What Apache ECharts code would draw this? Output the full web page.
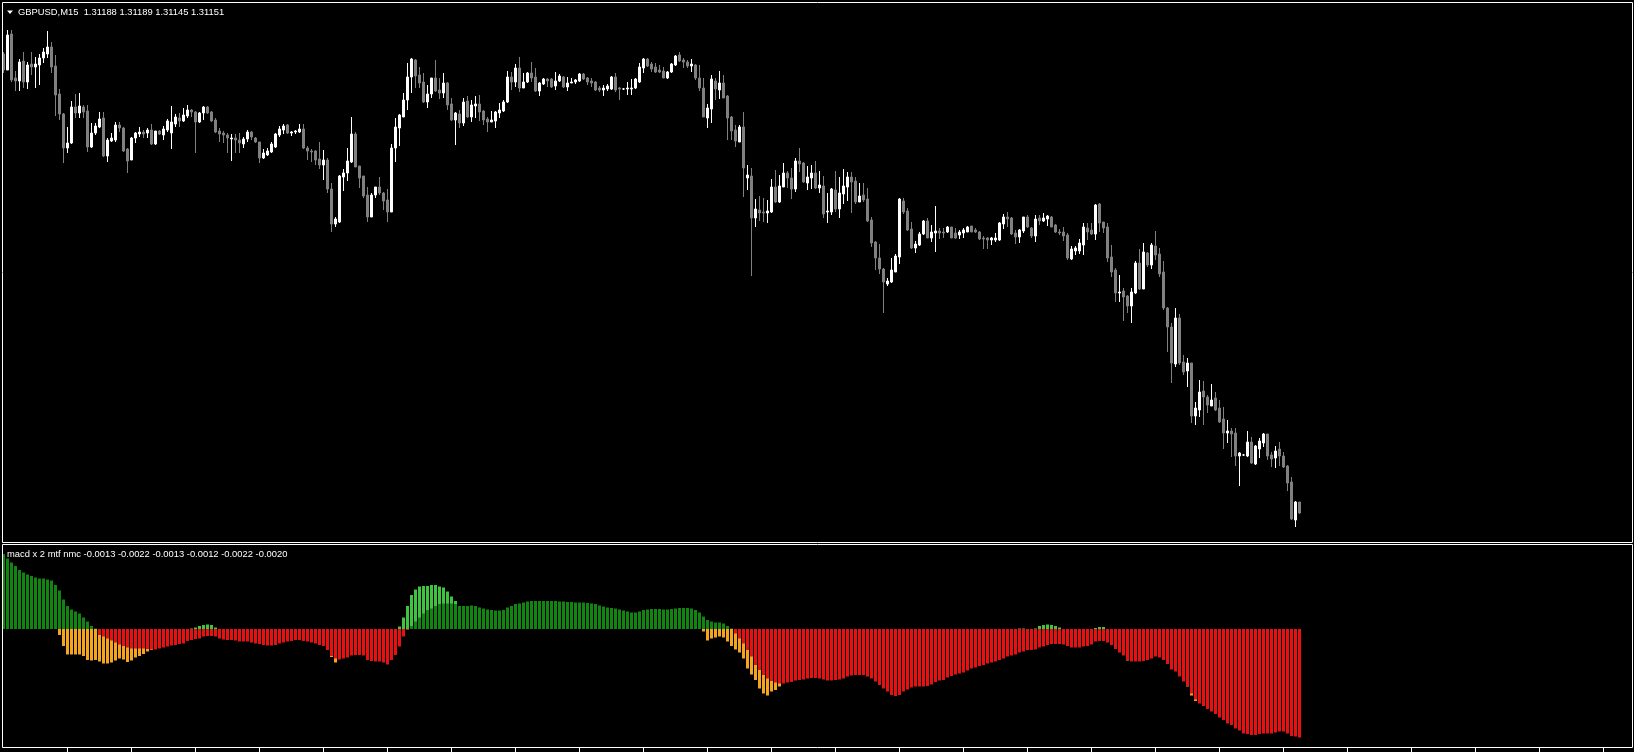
<!DOCTYPE html>
<html><head><meta charset="utf-8">
<script src="https://cdn.jsdelivr.net/npm/echarts@6/dist/echarts.min.js"></script>
<style>html,body{margin:0;padding:0;background:#000;overflow:hidden}#c{width:1634px;height:752px}</style>
</head><body><div id="c"></div>
<script>
// ---- text ----
const symbolLabel = 'GBPUSD,M15';
const lastQuote = ['1.31188', '1.31189', '1.31145', '1.31151'];
const indicatorName = 'macd x 2 mtf nmc';
const indicatorValues = ['-0.0013', '-0.0022', '-0.0013', '-0.0012', '-0.0022', '-0.0020'];

// ---- candles: [open, high, low, close] ----
const ohlc = [
[1.33510,1.33520,1.33415,1.33430],[1.33430,1.33630,1.33430,1.33605],[1.33610,1.33630,1.33370,1.33380],[1.33390,1.33425,1.33325,1.33375],
[1.33375,1.33485,1.33325,1.33470],[1.33475,1.33520,1.33340,1.33370],[1.33370,1.33470,1.33335,1.33455],[1.33460,1.33520,1.33405,1.33445],
[1.33445,1.33495,1.33340,1.33460],[1.33455,1.33510,1.33355,1.33490],[1.33490,1.33540,1.33465,1.33520],[1.33510,1.33625,1.33490,1.33545],
[1.33545,1.33570,1.33415,1.33445],[1.33450,1.33505,1.33200,1.33305],[1.33310,1.33335,1.33180,1.33210],[1.33210,1.33215,1.32965,1.33040],
[1.33040,1.33145,1.33015,1.33065],[1.33065,1.33275,1.33060,1.33245],[1.33245,1.33310,1.33190,1.33215],[1.33215,1.33315,1.33190,1.33250],
[1.33245,1.33255,1.33190,1.33220],[1.33225,1.33255,1.33020,1.33045],[1.33045,1.33165,1.33040,1.33115],[1.33115,1.33165,1.33105,1.33150],
[1.33145,1.33220,1.33140,1.33185],[1.33190,1.33220,1.32995,1.33000],[1.33000,1.33090,1.32970,1.33080],[1.33075,1.33115,1.33070,1.33090],
[1.33080,1.33170,1.33070,1.33155],[1.33155,1.33170,1.33120,1.33140],[1.33140,1.33145,1.33020,1.33025],[1.33035,1.33040,1.32915,1.32975],
[1.32980,1.33095,1.32980,1.33090],[1.33090,1.33120,1.33065,1.33115],[1.33110,1.33145,1.33095,1.33120],[1.33120,1.33130,1.33090,1.33110],
[1.33115,1.33140,1.33090,1.33130],[1.33130,1.33160,1.33055,1.33060],[1.33060,1.33125,1.33055,1.33125],[1.33125,1.33130,1.33105,1.33110],
[1.33105,1.33150,1.33080,1.33135],[1.33130,1.33185,1.33120,1.33175],[1.33115,1.33250,1.33035,1.33170],[1.33160,1.33210,1.33145,1.33195],
[1.33190,1.33215,1.33145,1.33175],[1.33175,1.33240,1.33170,1.33205],[1.33200,1.33255,1.33190,1.33230],[1.33230,1.33235,1.33195,1.33220],
[1.33220,1.33225,1.33015,1.33170],[1.33170,1.33220,1.33165,1.33215],[1.33215,1.33250,1.33180,1.33245],[1.33245,1.33250,1.33210,1.33215],
[1.33220,1.33225,1.33170,1.33175],[1.33180,1.33190,1.33115,1.33120],[1.33125,1.33140,1.33070,1.33110],[1.33115,1.33125,1.33065,1.33105],
[1.33105,1.33115,1.33015,1.33090],[1.33085,1.33110,1.32975,1.33090],[1.33090,1.33110,1.33015,1.33080],[1.33080,1.33115,1.33015,1.33065],
[1.33060,1.33095,1.33040,1.33085],[1.33085,1.33130,1.33070,1.33120],[1.33120,1.33125,1.33080,1.33095],[1.33090,1.33095,1.33065,1.33070],
[1.33070,1.33070,1.32965,1.32990],[1.32990,1.33035,1.32985,1.33015],[1.33005,1.33040,1.33000,1.33025],[1.33020,1.33070,1.33015,1.33060],
[1.33045,1.33115,1.33040,1.33110],[1.33105,1.33150,1.33095,1.33135],[1.33130,1.33160,1.33110,1.33150],[1.33155,1.33160,1.33110,1.33115],
[1.33115,1.33125,1.33100,1.33120],[1.33120,1.33130,1.33110,1.33125],[1.33120,1.33160,1.33115,1.33135],[1.33135,1.33160,1.33035,1.33040],
[1.33040,1.33050,1.32980,1.33025],[1.33025,1.33035,1.32970,1.33020],[1.33025,1.33030,1.32955,1.32980],[1.32985,1.33070,1.32935,1.32955],
[1.32955,1.33030,1.32880,1.32980],[1.32980,1.32990,1.32815,1.32835],[1.32835,1.32865,1.32620,1.32660],[1.32660,1.32695,1.32645,1.32685],
[1.32670,1.32905,1.32665,1.32900],[1.32895,1.32935,1.32825,1.32915],[1.32915,1.33040,1.32875,1.32975],[1.32970,1.33195,1.32965,1.33110],
[1.33110,1.33120,1.32945,1.32945],[1.32950,1.32950,1.32840,1.32890],[1.32900,1.32900,1.32790,1.32800],[1.32805,1.32845,1.32670,1.32695],
[1.32695,1.32815,1.32695,1.32805],[1.32805,1.32845,1.32790,1.32845],[1.32845,1.32895,1.32805,1.32815],[1.32815,1.32820,1.32730,1.32775],
[1.32780,1.32835,1.32670,1.32720],[1.32720,1.33060,1.32720,1.33040],[1.33040,1.33190,1.32970,1.33145],[1.33140,1.33210,1.33050,1.33205],
[1.33195,1.33315,1.33195,1.33280],[1.33280,1.33465,1.33230,1.33395],[1.33395,1.33490,1.33315,1.33485],[1.33480,1.33485,1.33340,1.33400],
[1.33405,1.33445,1.33340,1.33365],[1.33370,1.33415,1.33265,1.33270],[1.33270,1.33355,1.33240,1.33310],[1.33310,1.33390,1.33290,1.33390],
[1.33390,1.33480,1.33320,1.33325],[1.33330,1.33390,1.33285,1.33315],[1.33315,1.33415,1.33290,1.33365],[1.33365,1.33370,1.33230,1.33255],
[1.33260,1.33290,1.33175,1.33180],[1.33180,1.33220,1.33055,1.33215],[1.33210,1.33230,1.33140,1.33165],[1.33165,1.33290,1.33150,1.33270],
[1.33275,1.33300,1.33190,1.33195],[1.33195,1.33280,1.33170,1.33255],[1.33250,1.33300,1.33190,1.33260],[1.33260,1.33305,1.33175,1.33220],
[1.33225,1.33230,1.33155,1.33180],[1.33185,1.33195,1.33120,1.33170],[1.33170,1.33225,1.33170,1.33180],[1.33175,1.33225,1.33140,1.33220],
[1.33215,1.33265,1.33190,1.33230],[1.33225,1.33280,1.33220,1.33270],[1.33270,1.33425,1.33265,1.33395],[1.33395,1.33420,1.33330,1.33370],
[1.33370,1.33460,1.33345,1.33440],[1.33440,1.33495,1.33320,1.33340],[1.33340,1.33415,1.33340,1.33370],[1.33370,1.33420,1.33365,1.33415],
[1.33415,1.33470,1.33370,1.33390],[1.33395,1.33440,1.33320,1.33325],[1.33325,1.33370,1.33300,1.33365],[1.33360,1.33390,1.33355,1.33385],
[1.33385,1.33390,1.33345,1.33375],[1.33385,1.33390,1.33340,1.33345],[1.33350,1.33420,1.33330,1.33375],[1.33375,1.33410,1.33370,1.33400],
[1.33395,1.33400,1.33340,1.33345],[1.33345,1.33395,1.33325,1.33365],[1.33365,1.33390,1.33365,1.33370],[1.33370,1.33385,1.33360,1.33380],
[1.33375,1.33415,1.33370,1.33410],[1.33410,1.33415,1.33380,1.33385],[1.33390,1.33395,1.33355,1.33370],[1.33375,1.33390,1.33345,1.33365],
[1.33370,1.33375,1.33325,1.33330],[1.33340,1.33350,1.33320,1.33330],[1.33330,1.33355,1.33300,1.33340],[1.33335,1.33360,1.33325,1.33350],
[1.33335,1.33400,1.33330,1.33395],[1.33395,1.33415,1.33320,1.33330],[1.33340,1.33345,1.33280,1.33335],[1.33335,1.33340,1.33330,1.33335],
[1.33335,1.33370,1.33305,1.33340],[1.33335,1.33385,1.33305,1.33340],[1.33340,1.33390,1.33335,1.33385],[1.33370,1.33465,1.33365,1.33445],
[1.33440,1.33490,1.33415,1.33485],[1.33485,1.33490,1.33445,1.33450],[1.33460,1.33470,1.33420,1.33435],[1.33445,1.33465,1.33415,1.33420],
[1.33430,1.33455,1.33415,1.33420],[1.33425,1.33445,1.33390,1.33390],[1.33390,1.33425,1.33385,1.33420],[1.33420,1.33465,1.33415,1.33460],
[1.33455,1.33505,1.33450,1.33500],[1.33505,1.33520,1.33470,1.33475],[1.33480,1.33490,1.33440,1.33470],[1.33470,1.33480,1.33440,1.33450],
[1.33450,1.33485,1.33420,1.33460],[1.33455,1.33460,1.33380,1.33390],[1.33390,1.33455,1.33325,1.33340],[1.33340,1.33390,1.33195,1.33195],
[1.33190,1.33260,1.33140,1.33240],[1.33235,1.33405,1.33165,1.33385],[1.33375,1.33390,1.33280,1.33335],[1.33330,1.33425,1.33285,1.33365],
[1.33365,1.33405,1.33290,1.33290],[1.33300,1.33305,1.33080,1.33190],[1.33195,1.33200,1.33080,1.33125],[1.33130,1.33155,1.33045,1.33075],
[1.33070,1.33155,1.33070,1.33145],[1.33145,1.33220,1.32795,1.32940],[1.32890,1.32955,1.32830,1.32905],[1.32900,1.32940,1.32400,1.32690],
[1.32690,1.32785,1.32645,1.32735],[1.32730,1.32800,1.32675,1.32715],[1.32720,1.32790,1.32670,1.32715],[1.32715,1.32780,1.32665,1.32725],
[1.32720,1.32885,1.32715,1.32845],[1.32845,1.32930,1.32765,1.32770],[1.32770,1.32905,1.32765,1.32850],[1.32845,1.32965,1.32845,1.32915],
[1.32915,1.32925,1.32840,1.32890],[1.32890,1.32940,1.32785,1.32835],[1.32835,1.32990,1.32820,1.32975],[1.32975,1.33040,1.32920,1.32960],
[1.32965,1.32970,1.32865,1.32870],[1.32865,1.32950,1.32830,1.32895],[1.32890,1.32955,1.32835,1.32915],[1.32915,1.32975,1.32835,1.32840],
[1.32840,1.32925,1.32815,1.32855],[1.32850,1.32900,1.32690,1.32710],[1.32720,1.32815,1.32665,1.32725],[1.32720,1.32840,1.32705,1.32835],
[1.32830,1.32925,1.32720,1.32735],[1.32735,1.32895,1.32690,1.32815],[1.32810,1.32935,1.32760,1.32850],[1.32845,1.32920,1.32775,1.32895],
[1.32895,1.32920,1.32715,1.32870],[1.32875,1.32895,1.32760,1.32770],[1.32770,1.32865,1.32770,1.32800],[1.32805,1.32865,1.32770,1.32780],
[1.32785,1.32840,1.32670,1.32675],[1.32680,1.32695,1.32545,1.32565],[1.32570,1.32575,1.32430,1.32490],[1.32490,1.32560,1.32410,1.32435],
[1.32435,1.32440,1.32215,1.32370],[1.32360,1.32390,1.32350,1.32375],[1.32370,1.32490,1.32365,1.32430],[1.32420,1.32510,1.32420,1.32500],
[1.32495,1.32790,1.32460,1.32785],[1.32775,1.32790,1.32710,1.32720],[1.32725,1.32740,1.32625,1.32630],[1.32635,1.32670,1.32535,1.32540],
[1.32540,1.32575,1.32515,1.32560],[1.32555,1.32620,1.32550,1.32610],[1.32610,1.32680,1.32605,1.32675],[1.32675,1.32690,1.32590,1.32590],
[1.32590,1.32655,1.32570,1.32620],[1.32615,1.32750,1.32520,1.32625],[1.32625,1.32640,1.32585,1.32615],[1.32620,1.32640,1.32590,1.32615],
[1.32620,1.32650,1.32615,1.32645],[1.32645,1.32645,1.32590,1.32590],[1.32615,1.32640,1.32585,1.32590],[1.32605,1.32630,1.32585,1.32620],
[1.32615,1.32640,1.32590,1.32630],[1.32620,1.32650,1.32620,1.32645],[1.32650,1.32650,1.32620,1.32620],[1.32630,1.32640,1.32615,1.32620],
[1.32620,1.32625,1.32580,1.32585],[1.32590,1.32600,1.32535,1.32585],[1.32590,1.32595,1.32535,1.32580],[1.32580,1.32595,1.32555,1.32590],
[1.32580,1.32615,1.32570,1.32590],[1.32580,1.32670,1.32575,1.32665],[1.32660,1.32710,1.32635,1.32695],[1.32695,1.32720,1.32645,1.32685],
[1.32690,1.32695,1.32605,1.32610],[1.32615,1.32630,1.32560,1.32595],[1.32595,1.32635,1.32565,1.32630],[1.32625,1.32695,1.32615,1.32695],
[1.32695,1.32705,1.32640,1.32645],[1.32640,1.32645,1.32590,1.32600],[1.32600,1.32705,1.32570,1.32685],[1.32690,1.32705,1.32655,1.32675],
[1.32675,1.32715,1.32670,1.32690],[1.32685,1.32705,1.32650,1.32700],[1.32695,1.32700,1.32645,1.32645],[1.32655,1.32660,1.32615,1.32620],
[1.32620,1.32635,1.32605,1.32615],[1.32620,1.32645,1.32575,1.32600],[1.32605,1.32615,1.32480,1.32490],[1.32485,1.32550,1.32480,1.32535],
[1.32525,1.32550,1.32505,1.32540],[1.32525,1.32585,1.32510,1.32565],[1.32555,1.32665,1.32505,1.32645],[1.32640,1.32665,1.32580,1.32620],
[1.32630,1.32665,1.32605,1.32610],[1.32610,1.32760,1.32580,1.32755],[1.32760,1.32765,1.32620,1.32665],[1.32670,1.32670,1.32615,1.32640],
[1.32645,1.32665,1.32470,1.32490],[1.32495,1.32555,1.32395,1.32420],[1.32430,1.32440,1.32270,1.32315],[1.32315,1.32405,1.32270,1.32320],
[1.32325,1.32340,1.32175,1.32295],[1.32300,1.32305,1.32215,1.32250],[1.32250,1.32340,1.32165,1.32320],[1.32315,1.32475,1.32310,1.32465],
[1.32465,1.32535,1.32330,1.32335],[1.32335,1.32565,1.32335,1.32520],[1.32515,1.32520,1.32445,1.32455],[1.32455,1.32565,1.32435,1.32555],
[1.32550,1.32625,1.32480,1.32505],[1.32510,1.32540,1.32395,1.32410],[1.32420,1.32475,1.32230,1.32240],[1.32240,1.32245,1.32020,1.32145],
[1.32145,1.32165,1.31865,1.31965],[1.31960,1.32240,1.31945,1.32190],[1.32190,1.32210,1.31955,1.31965],[1.31970,1.32005,1.31905,1.31920],
[1.31925,1.31990,1.31845,1.31965],[1.31965,1.31965,1.31665,1.31700],[1.31700,1.31770,1.31655,1.31740],[1.31730,1.31880,1.31695,1.31820],
[1.31825,1.31875,1.31655,1.31795],[1.31795,1.31805,1.31715,1.31755],[1.31750,1.31860,1.31750,1.31780],[1.31790,1.31820,1.31725,1.31730],
[1.31740,1.31780,1.31665,1.31670],[1.31685,1.31745,1.31535,1.31615],[1.31615,1.31680,1.31565,1.31625],[1.31625,1.31640,1.31495,1.31610],
[1.31615,1.31640,1.31450,1.31500],[1.31500,1.31520,1.31350,1.31515],[1.31505,1.31510,1.31500,1.31505],[1.31500,1.31625,1.31495,1.31570],
[1.31570,1.31595,1.31460,1.31465],[1.31460,1.31555,1.31455,1.31550],[1.31535,1.31590,1.31490,1.31575],[1.31565,1.31615,1.31545,1.31610],
[1.31610,1.31610,1.31480,1.31500],[1.31505,1.31520,1.31445,1.31485],[1.31490,1.31550,1.31440,1.31525],[1.31535,1.31570,1.31450,1.31500],
[1.31500,1.31520,1.31440,1.31445],[1.31450,1.31455,1.31325,1.31365],[1.31370,1.31395,1.31180,1.31185],[1.31180,1.31275,1.31145,1.31270],
[1.31270,1.31270,1.31210,1.31215]
];

// ---- MACD histograms, in points (1 point = 0.00001) ----
const macdFastPts = [
120,110,100,92,85,78,70,62,55,48,40,28,12,2,
-12,-34,-51,-51,-51,-51,-54,-62,-63,-62,-65,-69,-69,-67,-63,-59,-61,-66,-63,-57,-54,-50,-45,-42,
-38,-34,-30,-26,-22,-18,-14,-10,-5,
1,3,6,8,9,8,3,
-3,-6,-9,-11,-13,-15,-16,-17,-19,-21,-24,-27,-28,-27,-24,-20,-17,-15,-14,-13,-14,-17,-20,-23,-26,-30,-33,-41,
-56,-67,-60,-55,-50,-44,-42,-43,-46,-55,-58,-58,-57,-56,-55,-40,-22,
5,23,46,68,79,85,86,86,88,88,85,83,75,65,56,
44,40,37,
35,33,32,31,31,32,33,35,38,42,45,47,48,49,50,50,50,49,48,47,46,46,46,46,47,47,47,47,46,45,
43,40,37,34,32,30,29,28,27,26,26,27,29,31,33,34,34,33,32,32,33,34,34,33,30,24,14,3,
-5,-23,-19,-17,-15,-17,-25,-34,-41,-47,-59,-79,-91,-102,-119,-129,-133,-125,-122,-115,
-108,-103,-98,-92,-88,-85,-82,-80,-80,-82,-86,-88,-87,-84,-80,-76,-72,-70,-70,-71,
-75,-82,-90,-98,-106,-113,-118,-120,-117,-105,-98,-95,-94,-92,-90,-88,-85,-80,-75,-71,
-67,-63,-58,-54,-50,-46,-42,-38,-34,-30,-26,-22,-18,-14,-10,-6,-4,-2,-1,
1,1,-1,0,1,6,8,9,8,6,3,
-2,-6,-9,-10,-9,-7,-4,-1,2,4,4,
-2,-10,-22,-35,-46,-63,-62,-58,-55,-53,-50,-46,-44,-49,-58,-68,-80,-84,-93,-104,-115,-133,-144,
-146,-150,-155,-158,-162,-168,-172,-178,-180,-186,-189,-194,-193,-193,-190,-186,-184,-184,-184,-182,-181,-183,-189,-196,-199,-200
];
const macdSlowPts = [
150,141,133,126,118,113,109,106,103,101,101,99,97,88,77,59,46,39,35,31,23,15,6,1,
-12,-15,-19,-23,-27,-31,-34,-37,-39,-39,-39,-39,-40,-41,-41,-39,-37,-35,-33,-32,-30,-29,-24,
-22,-20,-19,-15,-14,-14,-15,-19,-21,-22,-22,-23,-25,-25,-25,-27,-29,-30,-32,-33,-33,-32,-29,-27,-25,-24,-22,-22,-24,-25,-27,-29,-32,-34,
-42,-54,-59,-61,-59,-57,-53,-52,-52,-53,-62,-64,-65,-65,-67,-71,-62,-52,-35,-15,-2,
6,15,23,31,38,41,46,50,51,51,51,50,46,46,46,
47,46,43,41,39,38,37,37,38,43,46,50,51,53,55,56,56,56,56,56,56,56,55,55,54,54,53,53,53,52,
51,50,47,45,43,42,41,39,37,35,33,33,35,38,39,40,40,40,39,39,40,41,42,42,42,41,38,33,25,18,15,13,13,11,6,1,
-9,-19,-29,-42,-55,-72,-82,-92,-99,-104,-107,-109,-109,-107,-106,-103,-102,-101,-99,-98,
-98,-99,-101,-103,-103,-102,-101,-99,-95,-93,-92,-92,-92,-95,-99,-105,-112,-119,-125,-132,
-134,-132,-125,-121,-117,-115,-115,-115,-114,-111,-106,-103,-102,-97,-94,-91,-89,-87,-83,-79,
-77,-74,-72,-69,-67,-65,-62,-59,-55,-53,-51,-47,-45,-42,
-42,-41,-37,-35,-32,-30,-30,-30,-31,-34,-37,-37,-37,-35,-34,-31,-25,-24,-24,-27,
-32,-40,-47,-53,-62,-65,-65,-65,-64,-62,-59,-55,-57,-62,-70,-81,-85,-95,-105,-114,
-129,-141,-149,-154,-160,-165,-170,-177,-182,-189,-192,-199,-203,-209,-210,-212,-212,-210,-209,-209,
-209,-207,-205,-205,-209,-214,-215,-217
];

// chart shift: total bar slots in the window (empty space on the right)
const slotCount = 407;
const slots = Array.from({length: slotCount}, (_, i) => String(i));

const candleData = ohlc.map(r => [r[0], r[3], r[2], r[1]]);

const COL = {
  bull: '#ffffff', bear: '#808080',
  slowUp: '#128412', slowDn: '#e81111',
  fastUp: '#3ec43e', fastDn: '#f5a51d',
  frame: '#ffffff', text: '#ffffff'
};
const FONT = '9.4px "Liberation Sans", Arial, sans-serif';

const chart = echarts.init(document.getElementById('c'), null, {renderer: 'canvas', width: 1634, height: 752});
chart.setOption({
  backgroundColor: '#000000',
  animation: false,
  grid: [
    {left: 1.5, top: 2, width: 1628, height: 540, containLabel: false},
    {left: 1.5, top: 544, width: 1628, height: 204, containLabel: false}
  ],
  xAxis: [
    {type: 'category', gridIndex: 0, data: slots, boundaryGap: true, show: false},
    {type: 'category', gridIndex: 1, data: slots, boundaryGap: true, position: 'bottom',
     axisLine: {show: false, onZero: false}, axisLabel: {show: false}, splitLine: {show: false},
     axisTick: {show: true, alignWithLabel: true, inside: false, length: 4,
       interval: (i) => i > 0 && i % 16 === 0, lineStyle: {color: COL.frame, width: 1}}}
  ],
  yAxis: [
    {type: 'value', gridIndex: 0, min: 1.3107, max: 1.3377, show: false, splitLine: {show: false}},
    {type: 'value', gridIndex: 1, min: -238, max: 170, show: false, splitLine: {show: false}}
  ],
  series: [
    {type: 'candlestick', xAxisIndex: 0, yAxisIndex: 0, data: candleData, barWidth: 2, silent: true,
     itemStyle: {color: COL.bull, color0: COL.bear, borderColor: COL.bull, borderColor0: COL.bear, borderColorDoji: COL.bull, borderWidth: 1}},
    {type: 'bar', xAxisIndex: 1, yAxisIndex: 1, data: macdFastPts, barWidth: 3, barGap: '-100%', silent: true,
     itemStyle: {color: p => p.value >= 0 ? COL.fastUp : COL.fastDn}},
    {type: 'bar', xAxisIndex: 1, yAxisIndex: 1, data: macdSlowPts, barWidth: 3, barGap: '-100%', silent: true,
     itemStyle: {color: p => p.value >= 0 ? COL.slowUp : COL.slowDn}}
  ],
  graphic: [
    {type: 'rect', silent: true, z: 100, shape: {x: 2.5, y: 2.5, width: 1630, height: 540},
     style: {fill: null, stroke: COL.frame, lineWidth: 1}},
    {type: 'rect', silent: true, z: 100, shape: {x: 2.5, y: 544.5, width: 1630, height: 203},
     style: {fill: null, stroke: COL.frame, lineWidth: 1}},
    {type: 'polygon', silent: true, z: 100, shape: {points: [[7, 10.5], [13, 10.5], [10, 14]]},
     style: {fill: COL.text}},
    {type: 'text', silent: true, z: 100, x: 18, y: 12.8,
     style: {text: symbolLabel + '  ' + lastQuote.join(' '), fill: COL.text, font: FONT,
       textAlign: 'left', textVerticalAlign: 'middle', align: 'left', verticalAlign: 'middle'}},
    {type: 'text', silent: true, z: 100, x: 7, y: 554.3,
     style: {text: indicatorName + ' ' + indicatorValues.join(' '), fill: COL.text, font: FONT,
       textAlign: 'left', textVerticalAlign: 'middle', align: 'left', verticalAlign: 'middle'}}
  ]
});
</script>
</body></html>
